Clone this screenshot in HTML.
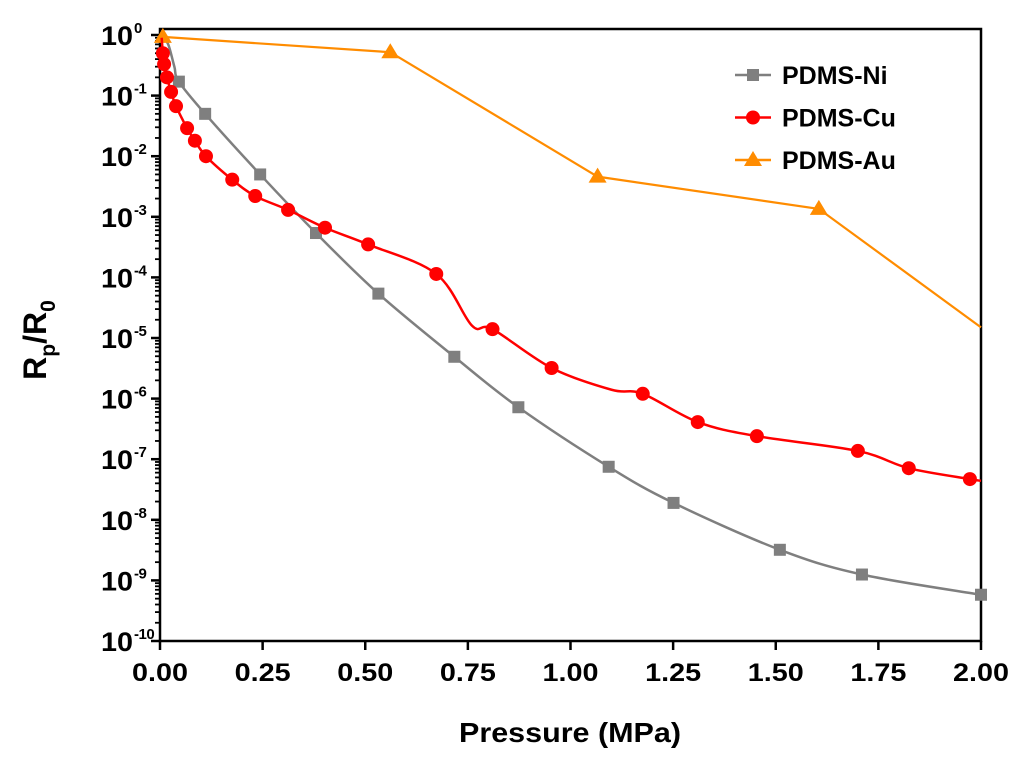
<!DOCTYPE html>
<html><head><meta charset="utf-8"><style>
html,body{margin:0;padding:0;background:#fff;}
svg{display:block;font-family:"Liberation Sans",Arial,sans-serif;font-weight:bold;}
</style></head><body>
<svg id="chart" width="1024" height="765" viewBox="0 0 1024 765" xmlns="http://www.w3.org/2000/svg">
<g id="axes"></g><g id="series"></g><g id="legend"></g>
</svg>
<script>
const xTicks=[0,0.25,0.5,0.75,1.0,1.25,1.5,1.75,2.0];
const xTickLabels=["0.00","0.25","0.50","0.75","1.00","1.25","1.50","1.75","2.00"];
const yDecades=[0,-1,-2,-3,-4,-5,-6,-7,-8,-9,-10];
const niX=[0.005,0.02,0.035,0.046,0.11,0.244,0.38,0.532,0.717,0.873,1.093,1.251,1.51,1.71,2.0];
const niY=[0.95,0.7,0.3,0.17,0.05,0.005,5.4e-4,5.4e-5,4.9e-6,7.2e-7,7.5e-8,1.9e-8,3.2e-9,1.25e-9,5.8e-10];
const niMarkers=[0.046,0.11,0.244,0.38,0.532,0.717,0.873,1.093,1.251,1.51,1.71,2.0];
const niMarkerY=[0.17,0.05,0.005,5.4e-4,5.4e-5,4.9e-6,7.2e-7,7.5e-8,1.9e-8,3.2e-9,1.25e-9,5.8e-10];
const cuX=[0.004,0.007,0.01,0.017,0.027,0.039,0.066,0.085,0.112,0.176,0.232,0.312,0.402,0.507,0.673,0.76,0.81,0.954,1.1,1.176,1.31,1.454,1.70,1.824,1.973,2.0];
const cuY=[0.9,0.5,0.33,0.2,0.115,0.067,0.029,0.018,0.01,0.0041,0.0022,0.0013,6.6e-4,3.5e-4,1.14e-4,1.6e-5,1.4e-5,3.2e-6,1.4e-6,1.2e-6,4.1e-7,2.4e-7,1.37e-7,7.1e-8,4.7e-8,4.4e-8];
const auX=[0.007,0.561,1.066,1.605,2.0];
const auY=[0.93,0.52,0.0046,0.00135,1.5e-5];
const auMarkers=[0,1,2,3];

const X0=160,X1=981,Ytop=35,Ybot=641,FrameTop=29;
const xs=v=>X0+(X1-X0)*v/2;
const ys=v=>Ytop+(-Math.log10(v))*(Ybot-Ytop)/10;
const NS="http://www.w3.org/2000/svg";
function mk(tag,attrs,parent){const e=document.createElementNS(NS,tag);for(const k in attrs)e.setAttribute(k,attrs[k]);parent.appendChild(e);return e;}
const axes=document.getElementById('axes'),series=document.getElementById('series'),legend=document.getElementById('legend');

const frame=mk('rect',{x:X0,y:FrameTop,width:X1-X0,height:Ybot-FrameTop,fill:'none',stroke:'#000','stroke-width':2.5},axes);


xTicks.forEach((t,i)=>{
 const x=xs(t);
 const tk=mk('line',{x1:x,x2:x,y1:Ybot,y2:Ybot+9,stroke:'#000','stroke-width':2.5},axes);
 
 const tx=mk('text',{x:x,y:Ybot+40,'text-anchor':'middle','font-size':25,textLength:56,lengthAdjust:'spacingAndGlyphs'},axes);
 tx.textContent=xTickLabels[i];
 
});
yDecades.forEach(d=>{
 const y=ys(Math.pow(10,d));
 const tk=mk('line',{x1:X0-9,x2:X0,y1:y,y2:y,stroke:'#000','stroke-width':2.5},axes);
 
 const tx=mk('text',{x:133,y:y+10,'text-anchor':'end','font-size':27,textLength:32,lengthAdjust:'spacingAndGlyphs'},axes);
 tx.textContent='10';
 
 const sx=mk('text',{x:134,y:y-2,'text-anchor':'start','font-size':15,'letter-spacing':-0.5},axes);
 sx.textContent=String(d);
 
 if(d>-10){for(let m=2;m<=9;m++){const ym=ys(m*Math.pow(10,d-1));
  const mt=mk('line',{x1:X0-5,x2:X0,y1:ym,y2:ym,stroke:'#000','stroke-width':1.8},axes);
  }}
});
const xt=mk('text',{x:570,y:742,'text-anchor':'middle','font-size':28,textLength:222,lengthAdjust:'spacingAndGlyphs'},axes);
xt.textContent='Pressure (MPa)';
const yt=mk('text',{x:0,y:0,'text-anchor':'middle','font-size':32,transform:'translate(46,340) rotate(-90)'},axes);
yt.innerHTML='R<tspan dy="9" font-size="21">p</tspan><tspan dy="-9">/R</tspan><tspan dy="9" font-size="21">0</tspan>';


function smoothPath(pts){
 let d='M'+pts[0][0]+','+pts[0][1];
 for(let i=0;i<pts.length-1;i++){
  const p0=pts[Math.max(0,i-1)],p1=pts[i],p2=pts[i+1],p3=pts[Math.min(pts.length-1,i+2)];
  const c1=[p1[0]+(p2[0]-p0[0])/6,p1[1]+(p2[1]-p0[1])/6],c2=[p2[0]-(p3[0]-p1[0])/6,p2[1]-(p3[1]-p1[1])/6];
  d+=' C'+c1[0]+','+c1[1]+' '+c2[0]+','+c2[1]+' '+p2[0]+','+p2[1];
 }
 return d;
}
// Ni
const niLine=mk('path',{d:smoothPath(niX.map((v,i)=>[xs(v),ys(niY[i])])),fill:'none',stroke:'#7f7f7f','stroke-width':2.5},series);

niMarkers.forEach((v,i)=>{const r=mk('rect',{x:xs(v)-6,y:ys(niMarkerY[i])-6,width:12,height:12,fill:'#7f7f7f'},series);
 });
// Au
const auLine=mk('polyline',{points:auX.map((v,i)=>xs(v)+','+ys(auY[i])).join(' '),fill:'none',stroke:'#ff8c00','stroke-width':2.2},series);

auMarkers.forEach(i=>{const x=xs(auX[i]),y=ys(auY[i]);
 const t=mk('polygon',{points:(x)+','+(y-9)+' '+(x-9)+','+(y+6)+' '+(x+9)+','+(y+6),fill:'#ff8c00'},series);
 });
// Cu
const cuLine=mk('path',{d:smoothPath(cuX.map((v,i)=>[xs(v),ys(cuY[i])])),fill:'none',stroke:'#ff0000','stroke-width':2.5},series);

cuX.forEach((v,i)=>{if(i===0||i===15||i===18||i===cuX.length-1)return;
 const c=mk('circle',{cx:xs(v),cy:ys(cuY[i]),r:7,fill:'#ff0000'},series);
 });
// legend
const leg=[["PDMS-Ni","#7f7f7f","sq"],["PDMS-Cu","#ff0000","ci"],["PDMS-Au","#ff8c00","tr"]];
leg.forEach((l,i)=>{const y=75+i*42.5;
 const g=mk('g',{},legend);
 mk('line',{x1:735,x2:771,y1:y,y2:y,stroke:l[1],'stroke-width':2.5},g);
 if(l[2]=='sq')mk('rect',{x:747,y:y-6,width:12,height:12,fill:l[1]},g);
 if(l[2]=='ci')mk('circle',{cx:753,cy:y,r:7,fill:l[1]},g);
 if(l[2]=='tr')mk('polygon',{points:'753,'+(y-9)+' 744,'+(y+6)+' 762,'+(y+6),fill:l[1]},g);
 const t=mk('text',{x:782,y:y+9,'font-size':25},g);t.textContent=l[0];
});
</script>
</body></html>
